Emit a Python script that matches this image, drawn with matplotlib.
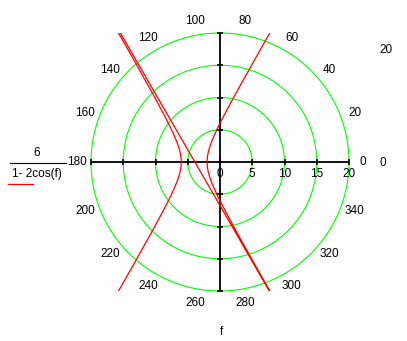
import numpy as np
import matplotlib
matplotlib.use("Agg")
from matplotlib import pyplot as plt
from matplotlib.lines import Line2D

plt.rcParams['font.family'] = ['Liberation Sans', 'DejaVu Sans']
plt.rcParams['font.size'] = 8.5

# curva polar r(f) = NUM / (1 - K*cos(f)), f em graus
NUM = 6
K = 2
f_graus = np.arange(65, 416, 5)

aneis = [5, 10, 15, 20]
marcas = [-20, -15, -10, -5, 0, 5, 10, 15, 20]
rotulos_raio = [0, 5, 10, 15, 20]
rotulos_angulo = list(range(0, 360, 20))
rmax = 20
rmin = 0

f = np.deg2rad(f_graus)
r = NUM / (1 - K * np.cos(f))

fig = plt.figure(figsize=(4.07, 3.41), dpi=100)
ax = fig.add_axes([91 / 407, 50 / 341, 258 / 407, 258 / 341])
ax.set_xlim(-rmax, rmax)
ax.set_ylim(-rmax, rmax)
ax.set_aspect('equal')
ax.axis('off')

t = np.linspace(0, 2 * np.pi, 721)
for a in aneis:
    ax.plot(a * np.cos(t), a * np.sin(t), color='#00ff00', lw=0.8, clip_on=False, zorder=1)

ax.axhline(0, color='k', lw=1.3, zorder=2)
ax.axvline(0, color='k', lw=1.3, zorder=2)
ax.plot(marcas, np.zeros(len(marcas)), ls='none', marker='|', ms=5, mew=1.2, color='k', clip_on=False, zorder=2)
ax.plot(np.zeros(len(marcas)), marcas, ls='none', marker='_', ms=5, mew=1.2, color='k', clip_on=False, zorder=2)

for v in rotulos_raio:
    ax.text(v, -1.8, str(v), ha='center', va='center')

for ang in rotulos_angulo:
    th = np.deg2rad(ang)
    ax.text(22.2 * np.cos(th), 22.2 * np.sin(th), str(ang), ha='center', va='center')

ax.text(25.7, 17.4, str(rmax), ha='center', va='center')
ax.text(25.3, -0.2, str(rmin), ha='center', va='center')

ax.plot(r * np.cos(f), r * np.sin(f), color='red', lw=0.9, zorder=3)

# legenda estilo Mathcad
fig.text(37 / 407, 1 - 153 / 341, '6', ha='center', va='center')
fig.add_artist(Line2D([10 / 407, 66 / 407], [1 - 163 / 341] * 2, transform=fig.transFigure, color='k', lw=0.8))
fig.text(37 / 407, 1 - 174 / 341, '1- 2cos(f)', ha='center', va='center')
fig.add_artist(Line2D([8 / 407, 33 / 407], [1 - 184 / 341] * 2, transform=fig.transFigure, color='red', lw=0.9))

fig.text(222 / 407, 1 - 332 / 341, 'f', ha='center', va='center')

fig.savefig('out.png', dpi=100)
